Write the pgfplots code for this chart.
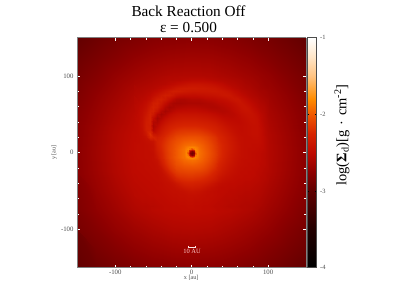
\documentclass[border=0pt]{standalone}
\usepackage{fontspec}
\setmainfont{Liberation Serif}
\usepackage{pgfplots}
\pgfplotsset{compat=1.18}
\definecolor{txtgray}{gray}{0.3}
\definecolor{frm}{gray}{0.5}
\begin{document}
\begin{tikzpicture}
\path[use as bounding box] (0,0) rectangle (397bp,307bp);
\begin{axis}[
  at={(77bp,39.3bp)}, anchor=south west,
  scale only axis, width=229.3bp, height=230bp,
  xmin=-150, xmax=150, ymin=-150, ymax=150,
  view={0}{90},
  axis on top,
  colormap={hotmap}{rgb255(0)=(0,0,0) rgb255(10)=(35,0,0) rgb255(20)=(95,0,0) rgb255(25)=(142,0,0) rgb255(30)=(190,10,0) rgb255(35)=(214,36,0) rgb255(40)=(240,88,0) rgb255(44)=(255,140,0) rgb255(50)=(255,195,130) rgb255(55)=(255,230,200) rgb255(60)=(255,255,255)},
  point meta min=-4, point meta max=-1,
  axis line style={frm, line width=1pt},
  xtick={-100,0,100}, ytick={-100,0,100},
  minor x tick num=4, minor y tick num=4,
  tick align=inside,
  tick style={white, line width=0.5pt},
  major tick length=3bp, minor tick length=2bp,
  /pgf/number format/assume math mode=true,
  ticklabel style={font=\fontsize{6.8}{8}\selectfont, text=txtgray},
  xlabel={x [au]}, ylabel={y [au]},
  label style={font=\fontsize{6.2}{7}\selectfont, text=txtgray},
  x label style={at={(axis description cs:0.498,-0.045)},anchor=center},
  y label style={at={(axis description cs:-0.1,0.5)},anchor=center},
  xticklabel style={yshift=1.5bp},
  colorbar,
  colorbar style={
    at={(1.004,0)}, anchor=south west, width=9.5bp,
    ytick={-4,-3,-2,-1}, minor y tick num=4,
    tick style={black, line width=0.4pt},
    major tick length=1.5bp, minor tick length=1.2bp,
    tick align=inside,
    axis line style={black!70, line width=0.8pt},
    /pgf/number format/assume math mode=true,
    yticklabel style={font=\fontsize{6.5}{7.5}\selectfont, text=txtgray},
  },
]
\addplot3[surf, shader=interp, mesh/cols=13, point meta=explicit]
 table[row sep=crcr, header=false, x expr={-150+25*mod(\coordindex,13)}, y expr={150-25*floor(\coordindex/13)}, z expr=0, meta index=0]{
-2.98\\-2.92\\-2.87\\-2.83\\-2.79\\-2.77\\-2.76\\-2.77\\-2.79\\-2.83\\-2.87\\-2.92\\-2.98\\
-2.92\\-2.86\\-2.80\\-2.74\\-2.70\\-2.67\\-2.66\\-2.67\\-2.70\\-2.74\\-2.80\\-2.86\\-2.92\\
-2.87\\-2.80\\-2.72\\-2.66\\-2.61\\-2.57\\-2.56\\-2.57\\-2.61\\-2.66\\-2.72\\-2.80\\-2.87\\
-2.83\\-2.74\\-2.66\\-2.58\\-2.53\\-2.50\\-2.49\\-2.50\\-2.53\\-2.58\\-2.66\\-2.74\\-2.83\\
-2.79\\-2.70\\-2.61\\-2.53\\-2.48\\-2.48\\-2.48\\-2.48\\-2.48\\-2.53\\-2.61\\-2.70\\-2.79\\
-2.77\\-2.67\\-2.57\\-2.50\\-2.48\\-2.48\\-2.48\\-2.48\\-2.48\\-2.50\\-2.57\\-2.67\\-2.77\\
-2.76\\-2.66\\-2.56\\-2.49\\-2.48\\-2.48\\-2.48\\-2.48\\-2.48\\-2.49\\-2.56\\-2.66\\-2.76\\
-2.77\\-2.67\\-2.57\\-2.50\\-2.48\\-2.48\\-2.48\\-2.48\\-2.48\\-2.50\\-2.57\\-2.67\\-2.77\\
-2.79\\-2.70\\-2.61\\-2.53\\-2.48\\-2.48\\-2.48\\-2.48\\-2.48\\-2.53\\-2.61\\-2.70\\-2.79\\
-2.83\\-2.74\\-2.66\\-2.58\\-2.53\\-2.50\\-2.49\\-2.50\\-2.53\\-2.58\\-2.66\\-2.74\\-2.83\\
-2.87\\-2.80\\-2.72\\-2.66\\-2.61\\-2.57\\-2.56\\-2.57\\-2.61\\-2.66\\-2.72\\-2.80\\-2.87\\
-2.92\\-2.86\\-2.80\\-2.74\\-2.70\\-2.67\\-2.66\\-2.67\\-2.70\\-2.74\\-2.80\\-2.86\\-2.92\\
-2.98\\-2.92\\-2.87\\-2.83\\-2.79\\-2.77\\-2.76\\-2.77\\-2.79\\-2.83\\-2.87\\-2.92\\-2.98\\
};
\addplot3[surf, shader=interp, mesh/cols=36, point meta=explicit]
 table[row sep=crcr, header=false, x expr={-75+5*mod(\coordindex,36)}, y expr={100-5*floor(\coordindex/36)}, z expr=0, meta index=0]{
-2.66\\-2.65\\-2.64\\-2.63\\-2.62\\-2.61\\-2.60\\-2.59\\-2.58\\-2.57\\-2.57\\-2.57\\-2.56\\-2.56\\-2.56\\-2.56\\-2.56\\-2.56\\-2.56\\-2.57\\-2.57\\-2.58\\-2.59\\-2.59\\-2.60\\-2.61\\-2.62\\-2.63\\-2.64\\-2.65\\-2.66\\-2.67\\-2.68\\-2.70\\-2.71\\-2.72\\
-2.64\\-2.63\\-2.62\\-2.61\\-2.60\\-2.59\\-2.58\\-2.57\\-2.56\\-2.55\\-2.55\\-2.54\\-2.54\\-2.53\\-2.52\\-2.51\\-2.51\\-2.51\\-2.51\\-2.52\\-2.53\\-2.54\\-2.55\\-2.56\\-2.57\\-2.58\\-2.59\\-2.60\\-2.61\\-2.63\\-2.64\\-2.65\\-2.67\\-2.68\\-2.70\\-2.71\\
-2.62\\-2.61\\-2.60\\-2.59\\-2.58\\-2.57\\-2.56\\-2.55\\-2.54\\-2.52\\-2.50\\-2.48\\-2.46\\-2.44\\-2.42\\-2.41\\-2.41\\-2.41\\-2.42\\-2.43\\-2.44\\-2.46\\-2.48\\-2.50\\-2.53\\-2.55\\-2.56\\-2.58\\-2.59\\-2.61\\-2.62\\-2.64\\-2.65\\-2.67\\-2.69\\-2.70\\
-2.60\\-2.59\\-2.58\\-2.57\\-2.56\\-2.55\\-2.53\\-2.51\\-2.48\\-2.45\\-2.41\\-2.38\\-2.36\\-2.35\\-2.35\\-2.35\\-2.35\\-2.36\\-2.36\\-2.37\\-2.38\\-2.39\\-2.41\\-2.44\\-2.47\\-2.50\\-2.53\\-2.55\\-2.57\\-2.59\\-2.60\\-2.62\\-2.64\\-2.66\\-2.67\\-2.69\\
-2.59\\-2.58\\-2.57\\-2.55\\-2.54\\-2.52\\-2.49\\-2.45\\-2.40\\-2.36\\-2.33\\-2.33\\-2.34\\-2.36\\-2.37\\-2.38\\-2.38\\-2.38\\-2.38\\-2.38\\-2.37\\-2.37\\-2.38\\-2.39\\-2.41\\-2.44\\-2.48\\-2.51\\-2.54\\-2.56\\-2.58\\-2.60\\-2.62\\-2.64\\-2.65\\-2.67\\
-2.58\\-2.56\\-2.55\\-2.53\\-2.51\\-2.47\\-2.42\\-2.36\\-2.32\\-2.33\\-2.38\\-2.43\\-2.46\\-2.47\\-2.47\\-2.47\\-2.47\\-2.46\\-2.45\\-2.44\\-2.43\\-2.42\\-2.41\\-2.39\\-2.38\\-2.39\\-2.43\\-2.47\\-2.50\\-2.53\\-2.56\\-2.58\\-2.60\\-2.62\\-2.64\\-2.66\\
-2.56\\-2.55\\-2.53\\-2.51\\-2.47\\-2.40\\-2.33\\-2.31\\-2.36\\-2.44\\-2.52\\-2.57\\-2.59\\-2.59\\-2.57\\-2.56\\-2.56\\-2.56\\-2.54\\-2.52\\-2.51\\-2.50\\-2.48\\-2.47\\-2.45\\-2.42\\-2.40\\-2.40\\-2.44\\-2.48\\-2.52\\-2.55\\-2.57\\-2.60\\-2.62\\-2.64\\
-2.55\\-2.53\\-2.51\\-2.47\\-2.40\\-2.32\\-2.30\\-2.37\\-2.47\\-2.56\\-2.61\\-2.62\\-2.62\\-2.61\\-2.60\\-2.60\\-2.60\\-2.60\\-2.59\\-2.58\\-2.57\\-2.55\\-2.53\\-2.52\\-2.50\\-2.48\\-2.45\\-2.42\\-2.41\\-2.44\\-2.48\\-2.52\\-2.55\\-2.58\\-2.60\\-2.63\\
-2.54\\-2.52\\-2.49\\-2.44\\-2.35\\-2.29\\-2.33\\-2.44\\-2.56\\-2.62\\-2.60\\-2.57\\-2.56\\-2.55\\-2.54\\-2.54\\-2.54\\-2.55\\-2.56\\-2.57\\-2.58\\-2.58\\-2.57\\-2.55\\-2.53\\-2.51\\-2.48\\-2.45\\-2.42\\-2.41\\-2.44\\-2.49\\-2.53\\-2.56\\-2.58\\-2.62\\
-2.54\\-2.51\\-2.47\\-2.41\\-2.31\\-2.30\\-2.41\\-2.55\\-2.62\\-2.58\\-2.53\\-2.50\\-2.49\\-2.48\\-2.48\\-2.48\\-2.48\\-2.49\\-2.50\\-2.51\\-2.53\\-2.54\\-2.55\\-2.56\\-2.55\\-2.53\\-2.50\\-2.47\\-2.44\\-2.42\\-2.42\\-2.46\\-2.50\\-2.54\\-2.57\\-2.61\\
-2.53\\-2.50\\-2.46\\-2.38\\-2.29\\-2.36\\-2.54\\-2.62\\-2.57\\-2.50\\-2.46\\-2.44\\-2.42\\-2.42\\-2.42\\-2.42\\-2.42\\-2.43\\-2.44\\-2.45\\-2.47\\-2.49\\-2.51\\-2.53\\-2.53\\-2.53\\-2.52\\-2.49\\-2.46\\-2.44\\-2.43\\-2.44\\-2.48\\-2.52\\-2.56\\-2.61\\
-2.52\\-2.50\\-2.45\\-2.35\\-2.29\\-2.48\\-2.62\\-2.56\\-2.48\\-2.43\\-2.40\\-2.38\\-2.37\\-2.36\\-2.36\\-2.36\\-2.36\\-2.37\\-2.38\\-2.39\\-2.41\\-2.43\\-2.45\\-2.48\\-2.50\\-2.51\\-2.51\\-2.50\\-2.48\\-2.46\\-2.44\\-2.44\\-2.46\\-2.51\\-2.55\\-2.60\\
-2.52\\-2.49\\-2.44\\-2.33\\-2.30\\-2.56\\-2.58\\-2.49\\-2.42\\-2.37\\-2.34\\-2.32\\-2.31\\-2.30\\-2.30\\-2.30\\-2.30\\-2.31\\-2.32\\-2.33\\-2.35\\-2.37\\-2.40\\-2.43\\-2.46\\-2.48\\-2.49\\-2.50\\-2.49\\-2.47\\-2.45\\-2.44\\-2.45\\-2.50\\-2.55\\-2.59\\
-2.51\\-2.49\\-2.44\\-2.32\\-2.32\\-2.60\\-2.52\\-2.43\\-2.36\\-2.31\\-2.28\\-2.26\\-2.25\\-2.24\\-2.24\\-2.24\\-2.24\\-2.25\\-2.26\\-2.28\\-2.30\\-2.32\\-2.35\\-2.38\\-2.42\\-2.45\\-2.47\\-2.48\\-2.48\\-2.47\\-2.46\\-2.45\\-2.45\\-2.49\\-2.54\\-2.58\\
-2.51\\-2.49\\-2.45\\-2.33\\-2.30\\-2.55\\-2.46\\-2.38\\-2.31\\-2.26\\-2.22\\-2.20\\-2.18\\-2.17\\-2.17\\-2.17\\-2.17\\-2.18\\-2.20\\-2.22\\-2.25\\-2.28\\-2.31\\-2.35\\-2.38\\-2.42\\-2.45\\-2.47\\-2.48\\-2.47\\-2.46\\-2.45\\-2.45\\-2.48\\-2.53\\-2.58\\
-2.50\\-2.49\\-2.46\\-2.38\\-2.20\\-2.38\\-2.40\\-2.33\\-2.26\\-2.21\\-2.17\\-2.14\\-2.12\\-2.11\\-2.10\\-2.10\\-2.10\\-2.11\\-2.13\\-2.16\\-2.19\\-2.23\\-2.27\\-2.31\\-2.35\\-2.39\\-2.43\\-2.46\\-2.47\\-2.47\\-2.46\\-2.45\\-2.45\\-2.48\\-2.53\\-2.57\\
-2.50\\-2.49\\-2.47\\-2.43\\-2.25\\-2.28\\-2.33\\-2.28\\-2.22\\-2.17\\-2.13\\-2.09\\-2.07\\-2.05\\-2.04\\-2.04\\-2.04\\-2.05\\-2.08\\-2.11\\-2.15\\-2.19\\-2.24\\-2.28\\-2.33\\-2.37\\-2.41\\-2.45\\-2.46\\-2.47\\-2.47\\-2.46\\-2.46\\-2.48\\-2.52\\-2.57\\
-2.50\\-2.49\\-2.48\\-2.46\\-2.44\\-2.42\\-2.30\\-2.25\\-2.19\\-2.13\\-2.08\\-2.05\\-2.02\\-1.99\\-1.98\\-1.97\\-1.98\\-2.00\\-2.03\\-2.07\\-2.12\\-2.17\\-2.22\\-2.27\\-2.31\\-2.36\\-2.40\\-2.44\\-2.46\\-2.47\\-2.47\\-2.47\\-2.47\\-2.48\\-2.52\\-2.56\\
-2.49\\-2.48\\-2.48\\-2.47\\-2.46\\-2.44\\-2.31\\-2.24\\-2.17\\-2.11\\-2.06\\-2.02\\-1.98\\-1.94\\-1.92\\-1.91\\-1.92\\-1.95\\-1.99\\-2.04\\-2.09\\-2.15\\-2.20\\-2.25\\-2.30\\-2.35\\-2.39\\-2.43\\-2.46\\-2.47\\-2.47\\-2.48\\-2.48\\-2.49\\-2.52\\-2.56\\
-2.49\\-2.48\\-2.48\\-2.47\\-2.46\\-2.44\\-2.33\\-2.25\\-2.17\\-2.10\\-2.05\\-2.00\\-1.95\\-1.90\\-1.88\\-2.30\\-1.88\\-1.92\\-1.97\\-2.02\\-2.08\\-2.14\\-2.19\\-2.25\\-2.30\\-2.35\\-2.39\\-2.43\\-2.46\\-2.47\\-2.48\\-2.48\\-2.49\\-2.50\\-2.52\\-2.56\\
-2.49\\-2.48\\-2.48\\-2.47\\-2.47\\-2.46\\-2.36\\-2.27\\-2.18\\-2.11\\-2.05\\-2.00\\-1.95\\-1.90\\-2.30\\-2.90\\-2.30\\-1.91\\-1.96\\-2.01\\-2.07\\-2.13\\-2.19\\-2.25\\-2.31\\-2.36\\-2.40\\-2.43\\-2.46\\-2.47\\-2.48\\-2.49\\-2.50\\-2.51\\-2.53\\-2.56\\
-2.49\\-2.48\\-2.48\\-2.47\\-2.47\\-2.46\\-2.39\\-2.28\\-2.19\\-2.11\\-2.05\\-2.00\\-1.95\\-1.90\\-1.88\\-2.30\\-1.88\\-1.92\\-1.97\\-2.02\\-2.08\\-2.14\\-2.20\\-2.26\\-2.32\\-2.37\\-2.41\\-2.44\\-2.46\\-2.47\\-2.48\\-2.49\\-2.50\\-2.51\\-2.53\\-2.56\\
-2.49\\-2.49\\-2.48\\-2.48\\-2.47\\-2.46\\-2.43\\-2.31\\-2.21\\-2.13\\-2.07\\-2.02\\-1.98\\-1.94\\-1.92\\-1.91\\-1.92\\-1.95\\-1.99\\-2.04\\-2.10\\-2.16\\-2.22\\-2.28\\-2.34\\-2.38\\-2.42\\-2.45\\-2.47\\-2.48\\-2.48\\-2.49\\-2.50\\-2.51\\-2.53\\-2.56\\
-2.50\\-2.49\\-2.49\\-2.48\\-2.47\\-2.47\\-2.45\\-2.36\\-2.24\\-2.16\\-2.10\\-2.05\\-2.02\\-1.99\\-1.98\\-1.97\\-1.98\\-2.00\\-2.03\\-2.08\\-2.13\\-2.19\\-2.25\\-2.31\\-2.36\\-2.40\\-2.43\\-2.46\\-2.47\\-2.48\\-2.49\\-2.49\\-2.50\\-2.52\\-2.53\\-2.56\\
-2.50\\-2.49\\-2.49\\-2.48\\-2.48\\-2.47\\-2.46\\-2.42\\-2.30\\-2.20\\-2.14\\-2.09\\-2.07\\-2.05\\-2.04\\-2.04\\-2.04\\-2.05\\-2.08\\-2.12\\-2.17\\-2.22\\-2.28\\-2.34\\-2.38\\-2.42\\-2.45\\-2.47\\-2.48\\-2.49\\-2.49\\-2.50\\-2.51\\-2.52\\-2.54\\-2.56\\
-2.50\\-2.50\\-2.49\\-2.49\\-2.48\\-2.48\\-2.47\\-2.45\\-2.38\\-2.27\\-2.19\\-2.15\\-2.12\\-2.11\\-2.10\\-2.10\\-2.11\\-2.12\\-2.14\\-2.17\\-2.22\\-2.27\\-2.32\\-2.37\\-2.41\\-2.44\\-2.46\\-2.48\\-2.49\\-2.49\\-2.50\\-2.50\\-2.52\\-2.53\\-2.55\\-2.57\\
-2.51\\-2.50\\-2.50\\-2.49\\-2.49\\-2.48\\-2.48\\-2.46\\-2.43\\-2.36\\-2.27\\-2.21\\-2.18\\-2.17\\-2.16\\-2.16\\-2.17\\-2.18\\-2.20\\-2.23\\-2.27\\-2.32\\-2.37\\-2.41\\-2.44\\-2.46\\-2.48\\-2.49\\-2.49\\-2.50\\-2.50\\-2.51\\-2.52\\-2.54\\-2.55\\-2.58\\
-2.51\\-2.51\\-2.50\\-2.50\\-2.49\\-2.49\\-2.48\\-2.47\\-2.45\\-2.42\\-2.36\\-2.29\\-2.25\\-2.23\\-2.22\\-2.22\\-2.23\\-2.24\\-2.26\\-2.29\\-2.33\\-2.37\\-2.41\\-2.45\\-2.47\\-2.48\\-2.49\\-2.50\\-2.50\\-2.51\\-2.51\\-2.52\\-2.53\\-2.54\\-2.56\\-2.58\\
-2.52\\-2.51\\-2.51\\-2.50\\-2.50\\-2.49\\-2.49\\-2.48\\-2.46\\-2.45\\-2.42\\-2.38\\-2.33\\-2.29\\-2.28\\-2.28\\-2.29\\-2.30\\-2.32\\-2.35\\-2.39\\-2.43\\-2.46\\-2.48\\-2.49\\-2.50\\-2.50\\-2.51\\-2.51\\-2.52\\-2.52\\-2.53\\-2.54\\-2.55\\-2.57\\-2.59\\
-2.52\\-2.52\\-2.51\\-2.51\\-2.50\\-2.50\\-2.49\\-2.48\\-2.47\\-2.46\\-2.45\\-2.43\\-2.40\\-2.37\\-2.35\\-2.34\\-2.35\\-2.36\\-2.39\\-2.42\\-2.45\\-2.47\\-2.49\\-2.50\\-2.50\\-2.51\\-2.51\\-2.52\\-2.52\\-2.53\\-2.53\\-2.54\\-2.55\\-2.56\\-2.58\\-2.60\\
-2.53\\-2.52\\-2.52\\-2.51\\-2.51\\-2.50\\-2.50\\-2.49\\-2.48\\-2.47\\-2.46\\-2.46\\-2.45\\-2.44\\-2.42\\-2.41\\-2.42\\-2.43\\-2.45\\-2.47\\-2.48\\-2.49\\-2.50\\-2.50\\-2.51\\-2.52\\-2.52\\-2.53\\-2.53\\-2.54\\-2.54\\-2.55\\-2.56\\-2.57\\-2.59\\-2.61\\
-2.53\\-2.53\\-2.52\\-2.52\\-2.51\\-2.51\\-2.50\\-2.50\\-2.49\\-2.48\\-2.47\\-2.47\\-2.46\\-2.46\\-2.45\\-2.45\\-2.45\\-2.46\\-2.47\\-2.48\\-2.48\\-2.49\\-2.50\\-2.51\\-2.52\\-2.52\\-2.53\\-2.54\\-2.54\\-2.55\\-2.55\\-2.56\\-2.57\\-2.58\\-2.60\\-2.62\\
-2.54\\-2.54\\-2.53\\-2.53\\-2.52\\-2.52\\-2.51\\-2.51\\-2.50\\-2.49\\-2.48\\-2.48\\-2.47\\-2.47\\-2.46\\-2.46\\-2.47\\-2.47\\-2.48\\-2.48\\-2.49\\-2.50\\-2.51\\-2.52\\-2.53\\-2.53\\-2.54\\-2.54\\-2.55\\-2.56\\-2.56\\-2.57\\-2.58\\-2.59\\-2.61\\-2.63\\
-2.55\\-2.55\\-2.54\\-2.54\\-2.53\\-2.53\\-2.52\\-2.51\\-2.51\\-2.50\\-2.49\\-2.49\\-2.48\\-2.48\\-2.47\\-2.47\\-2.48\\-2.48\\-2.49\\-2.49\\-2.50\\-2.51\\-2.52\\-2.52\\-2.53\\-2.54\\-2.54\\-2.55\\-2.56\\-2.57\\-2.57\\-2.58\\-2.59\\-2.60\\-2.62\\-2.64\\
-2.57\\-2.56\\-2.55\\-2.55\\-2.54\\-2.54\\-2.53\\-2.52\\-2.51\\-2.51\\-2.50\\-2.50\\-2.49\\-2.49\\-2.48\\-2.48\\-2.49\\-2.49\\-2.50\\-2.50\\-2.51\\-2.52\\-2.52\\-2.53\\-2.54\\-2.55\\-2.55\\-2.56\\-2.57\\-2.57\\-2.58\\-2.59\\-2.60\\-2.61\\-2.63\\-2.65\\
-2.58\\-2.57\\-2.56\\-2.55\\-2.54\\-2.53\\-2.52\\-2.52\\-2.51\\-2.51\\-2.50\\-2.50\\-2.50\\-2.49\\-2.49\\-2.49\\-2.49\\-2.49\\-2.50\\-2.50\\-2.50\\-2.51\\-2.52\\-2.52\\-2.53\\-2.53\\-2.54\\-2.55\\-2.56\\-2.57\\-2.58\\-2.59\\-2.61\\-2.63\\-2.64\\-2.66\\
};
\addplot3[surf, shader=interp, mesh/cols=9, point meta=explicit]
 table[row sep=crcr, header=false, x expr={-10+2.5*mod(\coordindex,9)}, y expr={10-2.5*floor(\coordindex/9)}, z expr=0, meta index=0]{
-1.94\\-1.93\\-1.92\\-1.92\\-1.91\\-1.92\\-1.92\\-1.94\\-1.95\\
-1.92\\-1.88\\-1.85\\-1.83\\-1.82\\-1.83\\-1.85\\-1.88\\-1.93\\
-1.90\\-1.85\\-1.81\\-1.90\\-2.10\\-1.90\\-1.81\\-1.86\\-1.92\\
-1.90\\-1.83\\-1.90\\-2.60\\-2.80\\-2.60\\-1.90\\-1.84\\-1.91\\
-1.90\\-1.82\\-2.10\\-2.80\\-2.90\\-2.80\\-2.10\\-1.83\\-1.91\\
-1.90\\-1.83\\-1.90\\-2.60\\-2.80\\-2.60\\-1.90\\-1.84\\-1.91\\
-1.90\\-1.85\\-1.81\\-1.90\\-2.10\\-1.90\\-1.81\\-1.86\\-1.92\\
-1.92\\-1.88\\-1.85\\-1.83\\-1.82\\-1.83\\-1.85\\-1.88\\-1.93\\
-1.94\\-1.93\\-1.92\\-1.92\\-1.91\\-1.92\\-1.92\\-1.94\\-1.95\\
};
\addplot3[color=white!90!red, line width=0.6pt, mark=|, mark size=1.2pt, mark options={line width=0.5pt}] coordinates {(-5,-123,0) (5,-123,0)};
\node[text=white!80!red, font=\fontsize{6.5}{7.5}\selectfont, inner sep=0pt] at (axis cs:0.5,-129,0) {10 AU};
\end{axis}
\node[inner sep=0pt, font=\fontsize{15.3}{18}\selectfont] at (188.5bp,296bp) {Back Reaction Off};
\node[inner sep=0pt, font=\fontsize{15.3}{18}\selectfont] at (188.5bp,279bp) {ε = 0.500};
\node[inner sep=0pt, rotate=90, font=\fontsize{14.5}{17}\selectfont] at (342bp,172bp) {log(\textbf{Σ}\textsubscript{d})[g\,\,·\,\,cm\textsuperscript{-2}]};
\end{tikzpicture}
\end{document}
